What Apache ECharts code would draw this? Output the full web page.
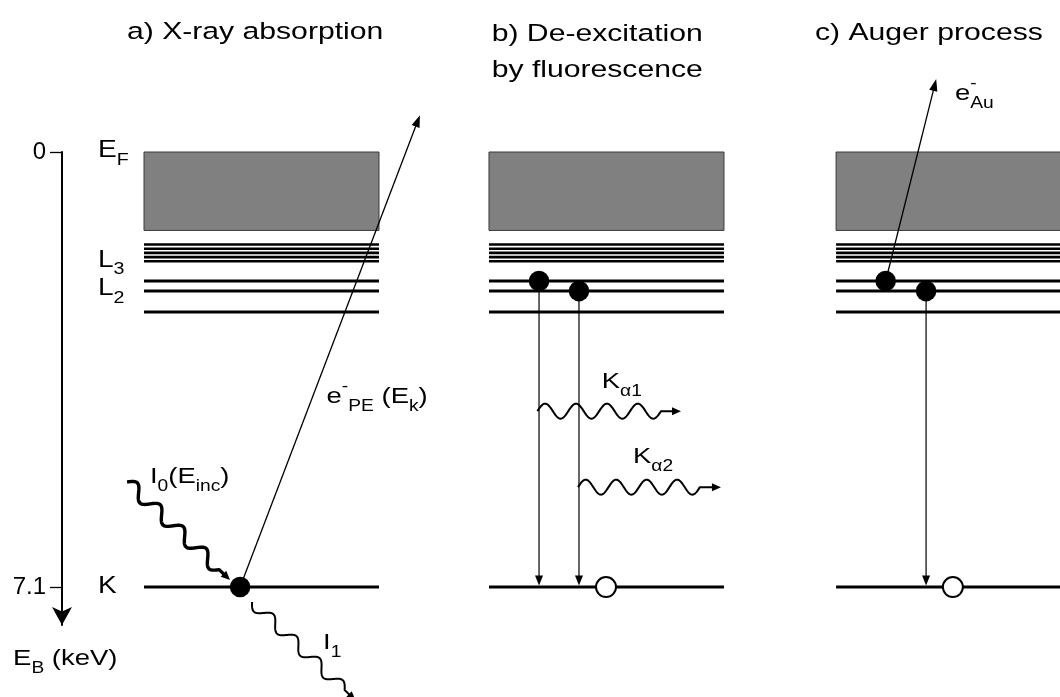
<!DOCTYPE html>
<html>
<head>
<meta charset="utf-8">
<title>X-ray absorption, fluorescence and Auger process</title>
<script src="https://cdn.jsdelivr.net/npm/echarts@6.0.0/dist/echarts.min.js"></script>
<style>
  html, body { margin: 0; padding: 0; background: #ffffff; }
  #chart { width: 1060px; height: 697px; }
</style>
</head>
<body>
<div id="chart"></div>
<script>
// ---------------------------------------------------------------- data ----
// Binding energy axis (keV), 0 at the Fermi level, increasing downward.
const axisTicks = [0, 7.1];
const tickLabels = ['0', '7.1'];

// Panel headings, one per process.
const panelTitles = [['a) X-ray absorption'], ['b) De-excitation', 'by fluorescence'], ['c) Auger process']];

// Level scheme repeated in every panel (schematic binding energies, keV).
const bandEdges = [0, 1.28];                              // occupied band below E_F
const valenceLines = [1.51, 1.578, 1.647, 1.715, 1.784];  // closely spaced M levels
const coreLevelNames = ['L3', 'L2', 'L1', 'K'];
const coreLevelEnergies = [2.105, 2.27, 2.61, 7.1];

// Electrons (filled) and holes (open): [panel, position across level box 0..1, energy]
const electrons = [[0, 0.409, 7.1], [1, 0.213, 2.105], [1, 0.383, 2.27], [2, 0.211, 2.105], [2, 0.383, 2.27]];
const holes = [[1, 0.498, 7.1], [2, 0.497, 7.1]];

// Emitted electrons (photoelectron, Auger electron): [panel, x0, E0, x1, E1]
const electronTracks = [[0, 0.409, 7.1, 1.174, -0.60], [2, 0.211, 2.105, 0.426, -1.19]];
// Transitions filling the K hole: [panel, x0, E0, x1, E1]
const transitions = [[1, 0.213, 2.105, 0.213, 7.1], [1, 0.383, 2.27, 0.383, 7.1], [2, 0.383, 2.27, 0.383, 7.1]];
// Photons (incident I0, transmitted I1, K-alpha1, K-alpha2): [panel, x0, E0, x1, E1]
const photons = [[0, -0.072, 5.386, 0.366, 6.985], [0, 0.460, 7.344, 0.900, 8.95],
                 [1, 0.206, 4.23, 0.817, 4.23], [1, 0.379, 5.47, 0.987, 5.47]];

// Level labels (main text + subscript) and annotation texts as runs:
// [text, level(0 normal, 1 subscript, -1 superscript), 'stack' keeps the pen in place]
const levelLabelRuns = [[['E'], ['F', 1]], [['L'], ['3', 1]], [['L'], ['2', 1]], [['K']]];
const levelLabelEnergies = [bandEdges[0], coreLevelEnergies[0], coreLevelEnergies[1], coreLevelEnergies[3]];
const annotationRuns = [
  [['E'], ['B', 1], [' (keV)']],
  [['I'], ['0', 1], ['(E'], ['inc', 1], [')']],
  [['I'], ['1', 1]],
  [['e'], ['-', -1], ['PE', 1], [' (E'], ['k', 1], [')']],
  [['K'], ['\u03b11', 1]],
  [['K'], ['\u03b12', 1]],
  [['e'], ['-', -1, 'stack'], ['Au', 1]]
];

// -------------------------------------------------------------- layout ----
const FONT = 'Liberation Sans';
const STRETCH = 1.22;                 // lettering is set horizontally widened
const PANEL_X = [0, 1.468, 2.945];    // left edge of each panel's level box (box widths)
// where each annotation's baseline starts: [panel, x, E]
const annotationAnchors = [
  [0, -0.557, 8.405], [0, 0.0255, 5.435], [0, 0.762, 8.144], [0, 0.777, 4.129],
  [1, 0.480, 3.884], [1, 0.613, 5.109], [2, 0.506, -0.821]
];
const levelLabelDy = [6.3, -12.7, 5.7, 7.3];   // baseline offset from the level, px
const photonStyles = [
  {width: 3.4, amp: 6.4, periods: 4, phase: 0, tail: 15},
  {width: 2.0, amp: 5.8, periods: 4, phase: Math.PI, tail: 15},
  {width: 2.0, amp: 7.5, periods: 4, phase: 0, tail: 20},
  {width: 2.0, amp: 7.5, periods: 4, phase: 0, tail: 21}
];
const titlePos = [[127, 40.7], [491.7, 42.3], [815, 42]];

const measureCtx = document.createElement('canvas').getContext('2d');
function measure(t, fs) {
  measureCtx.font = fs + 'px "' + FONT + '"';
  return measureCtx.measureText(t).width;
}

// Sequence of text runs starting at (x, baseline), with sub/superscripts.
function textRuns(x, baseline, runs, F) {
  const out = [];
  let cx = x;
  runs.forEach(function (r) {
    const t = r[0], level = r[1] || 0, mode = r[2];
    const fs = level ? F * 0.7 : F;
    const b = baseline + (level === 1 ? 0.32 * F : level === -1 ? -0.55 * F : 0);
    out.push({
      type: 'text', x: cx, y: b - 0.3465 * fs, scaleX: STRETCH, silent: true,
      style: {text: t, font: fs + 'px "' + FONT + '"', fill: '#000', align: 'left', verticalAlign: 'middle'}
    });
    if (mode !== 'stack') cx += measure(t, fs) * STRETCH;
  });
  return out;
}

function pt(api, panel, x, e) { return api.coord([PANEL_X[panel] + x, e]); }

function arrowHead(tip, d, len, half) {
  const bx = tip[0] - d[0] * len, by = tip[1] - d[1] * len;
  const nx = -d[1], ny = d[0];
  return {type: 'polygon', silent: true,
    shape: {points: [[tip[0], tip[1]], [bx + nx * half, by + ny * half], [bx - nx * half, by - ny * half]]},
    style: {fill: '#000'}};
}

function straightArrow(p0, p1, width, len, half) {
  const dx = p1[0] - p0[0], dy = p1[1] - p0[1], L = Math.hypot(dx, dy);
  const d = [dx / L, dy / L];
  const end = [p1[0] - d[0] * len * 0.6, p1[1] - d[1] * len * 0.6];
  return [
    {type: 'line', silent: true, shape: {x1: p0[0], y1: p0[1], x2: end[0], y2: end[1]}, style: {stroke: '#000', lineWidth: width}},
    arrowHead(p1, d, len, half)
  ];
}

function wavyArrow(p0, p1, st) {
  const dx = p1[0] - p0[0], dy = p1[1] - p0[1], L = Math.hypot(dx, dy);
  const d = [dx / L, dy / L], n = [d[1], -d[0]];
  const W = L - st.tail, steps = Math.ceil(W * 2), pts = [];
  for (let i = 0; i <= steps; i++) {
    const s = W * i / steps;
    const off = st.amp * Math.sin(st.phase + 2 * Math.PI * st.periods * s / W);
    pts.push([p0[0] + d[0] * s + n[0] * off, p0[1] + d[1] * s + n[1] * off]);
  }
  const headLen = 9;
  pts.push([p1[0] - d[0] * headLen * 0.6, p1[1] - d[1] * headLen * 0.6]);
  return [
    {type: 'polyline', silent: true, shape: {points: pts}, style: {stroke: '#000', lineWidth: st.width, fill: null, lineJoin: 'round'}},
    arrowHead(p1, d, headLen, 4)
  ];
}

const idx = arr => arr.map((_, i) => [i, 0]);

// one entry per drawn level line: [panel, energy, width]
const levelItems = [];
PANEL_X.forEach(function (_, p) {
  valenceLines.forEach(e => levelItems.push([p, e, 2.6]));
  coreLevelEnergies.forEach(e => levelItems.push([p, e, 3]));
});

const chart = echarts.init(document.getElementById('chart'), null, {renderer: 'canvas'});

const option = {
  animation: false,
  backgroundColor: '#ffffff',
  tooltip: {show: false},
  grid: {left: 144, top: 152, width: 235, height: 473, outerBoundsMode: 'none', containLabel: false},
  xAxis: {type: 'value', min: 0, max: 1, show: false},
  yAxis: {
    type: 'value', min: 0, max: 7.72, inverse: true, offset: 82,
    axisLine: {show: true, onZero: false, symbol: ['arrow', 'none'], symbolSize: [15, 18], lineStyle: {color: '#000', width: 2}},
    axisTick: {show: true, length: 12, customValues: axisTicks, lineStyle: {color: '#000', width: 1.3}},
    axisLabel: {
      show: true, customValues: axisTicks, margin: 16,
      formatter: v => tickLabels[axisTicks.indexOf(v)],
      color: '#000', fontSize: 24, fontFamily: FONT
    },
    splitLine: {show: false}
  },
  graphic: {
    elements: panelTitles.map(function (lines, i) {
      return {
        type: 'group', silent: true,
        children: lines.map(function (t, j) {
          return {
            type: 'text', x: titlePos[i][0], y: titlePos[i][1] + j * 36 - 0.3465 * 24.5, scaleX: 1.23,
            style: {text: t, font: '24.5px "' + FONT + '"', fill: '#000', align: 'left', verticalAlign: 'middle'}
          };
        })
      };
    })
  },
  series: [
    { // occupied band
      type: 'custom', name: 'band', silent: true, data: idx(PANEL_X),
      renderItem: function (params, api) {
        const p = params.dataIndex;
        const a = pt(api, p, 0, bandEdges[0]), b = pt(api, p, 1, bandEdges[1]);
        return {type: 'rect', shape: {x: a[0], y: a[1], width: b[0] - a[0], height: b[1] - a[1]},
          style: {fill: '#808080', stroke: '#3a3a3a', lineWidth: 1}};
      }
    },
    { // discrete levels
      type: 'custom', name: 'levels', silent: true, data: idx(levelItems),
      renderItem: function (params, api) {
        const it = levelItems[params.dataIndex];
        const a = pt(api, it[0], 0, it[1]), b = pt(api, it[0], 1, it[1]);
        return {type: 'line', shape: {x1: a[0], y1: a[1], x2: b[0], y2: b[1]}, style: {stroke: '#000', lineWidth: it[2]}};
      }
    },
    { // emitted electrons
      type: 'custom', name: 'electron tracks', silent: true, data: idx(electronTracks),
      renderItem: function (params, api) {
        const t = electronTracks[params.dataIndex];
        return {type: 'group', children: straightArrow(pt(api, t[0], t[1], t[2]), pt(api, t[0], t[3], t[4]), 1.3, 12, 4.2)};
      }
    },
    { // transitions into the K hole
      type: 'custom', name: 'transitions', silent: true, data: idx(transitions),
      renderItem: function (params, api) {
        const t = transitions[params.dataIndex];
        const end = pt(api, t[0], t[3], t[4]);
        end[1] -= 1.5;
        return {type: 'group', children: straightArrow(pt(api, t[0], t[1], t[2]), end, 1.2, 10, 4)};
      }
    },
    { // photons
      type: 'custom', name: 'photons', silent: true, data: idx(photons),
      renderItem: function (params, api) {
        const t = photons[params.dataIndex];
        return {type: 'group', children: wavyArrow(pt(api, t[0], t[1], t[2]), pt(api, t[0], t[3], t[4]), photonStyles[params.dataIndex])};
      }
    },
    { // electrons
      type: 'custom', name: 'electrons', silent: true, data: idx(electrons),
      renderItem: function (params, api) {
        const e = electrons[params.dataIndex];
        const c = pt(api, e[0], e[1], e[2]);
        return {type: 'circle', shape: {cx: c[0], cy: c[1], r: 10.3}, style: {fill: '#000'}};
      }
    },
    { // holes
      type: 'custom', name: 'holes', silent: true, data: idx(holes),
      renderItem: function (params, api) {
        const h = holes[params.dataIndex];
        const c = pt(api, h[0], h[1], h[2]);
        return {type: 'circle', shape: {cx: c[0], cy: c[1], r: 10}, style: {fill: '#fff', stroke: '#000', lineWidth: 2}};
      }
    },
    { // level labels
      type: 'custom', name: 'level labels', silent: true, data: idx(levelLabelRuns),
      renderItem: function (params, api) {
        const i = params.dataIndex;
        const a = pt(api, 0, 0, levelLabelEnergies[i]);
        return {type: 'group', children: textRuns(a[0] - 46, a[1] + levelLabelDy[i], levelLabelRuns[i], 23)};
      }
    },
    { // annotations
      type: 'custom', name: 'annotations', silent: true, data: idx(annotationRuns),
      renderItem: function (params, api) {
        const i = params.dataIndex, a = annotationAnchors[i];
        const c = pt(api, a[0], a[1], a[2]);
        return {type: 'group', children: textRuns(c[0], c[1], annotationRuns[i], 22.5)};
      }
    }
  ]
};

chart.setOption(option);
</script>
</body>
</html>
